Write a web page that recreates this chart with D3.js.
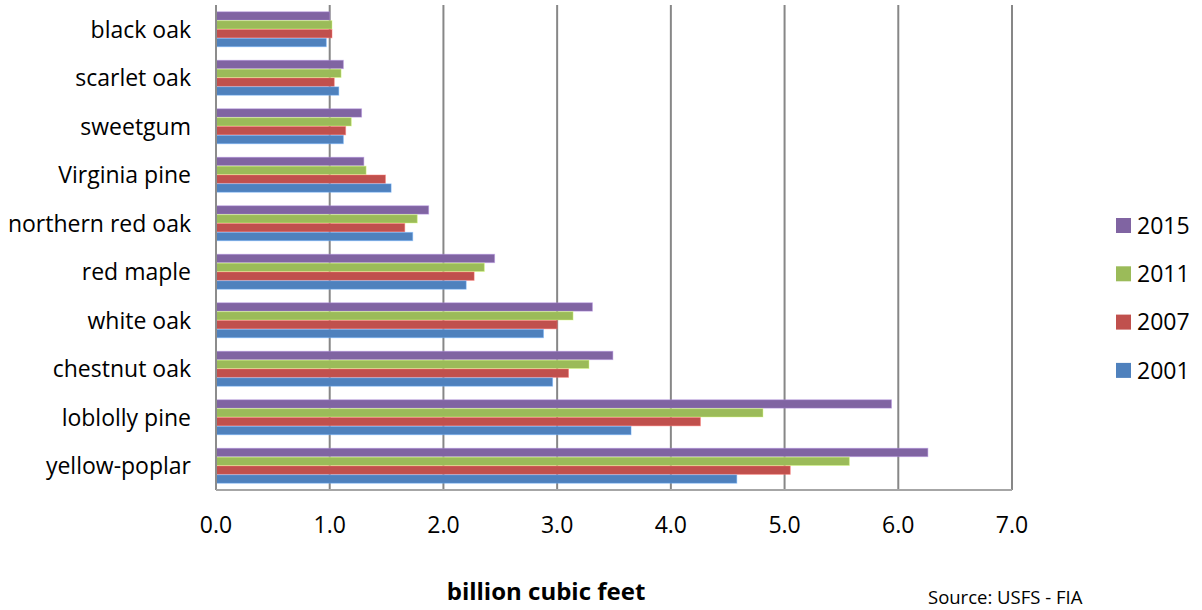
<!DOCTYPE html>
<html>
<head>
<meta charset="utf-8">
<script src="https://cdn.jsdelivr.net/npm/d3@7"></script>
<style>
  html, body { margin: 0; padding: 0; background: #fff; }
  svg { display: block; font-family: "Open Sans", "Noto Sans", sans-serif; }
</style>
</head>
<body>
<svg id="chart" width="1202" height="610"></svg>
<script>
// Growing-stock volume by species (billion cubic feet), inventory years 2001–2015
const categories = ["black oak", "scarlet oak", "sweetgum", "Virginia pine", "northern red oak",
  "red maple", "white oak", "chestnut oak", "loblolly pine", "yellow-poplar"];

const years = ["2015", "2011", "2007", "2001"];

const values2015 = [1.00, 1.12, 1.28, 1.30, 1.87, 2.45, 3.31, 3.49, 5.94, 6.26];
const values2011 = [1.02, 1.10, 1.19, 1.32, 1.77, 2.36, 3.14, 3.28, 4.81, 5.57];
const values2007 = [1.02, 1.04, 1.14, 1.49, 1.66, 2.27, 3.00, 3.10, 4.26, 5.05];
const values2001 = [0.97, 1.08, 1.12, 1.54, 1.73, 2.20, 2.88, 2.96, 3.65, 4.58];

const xTicks = [0, 1, 2, 3, 4, 5, 6, 7];
const xTitle = "billion cubic feet";
const sourceNote = "Source: USFS - FIA";

const seriesValues = { "2015": values2015, "2011": values2011, "2007": values2007, "2001": values2001 };
const colors = { "2015": "#8064A2", "2011": "#9BBB59", "2007": "#C0504D", "2001": "#4F81BD" };

const svg = d3.select("#chart");

const plot = { left: 216, right: 1012, top: 5, bottom: 490 };

const x = d3.scaleLinear().domain([0, 7]).range([plot.left, plot.right]);
const y = d3.scaleBand().domain(categories).range([plot.top, plot.bottom])
  .paddingInner(0.28).paddingOuter(0.14);
const ySub = d3.scaleBand().domain(years).range([0, y.bandwidth()]).paddingInner(0.06);

// vertical gridlines
svg.append("g")
  .selectAll("line")
  .data(xTicks.slice(1))
  .join("line")
  .attr("x1", d => x(d)).attr("x2", d => x(d))
  .attr("y1", plot.top).attr("y2", plot.bottom)
  .attr("stroke", "#878787")
  .attr("stroke-width", 2);

// bars
const groups = svg.append("g")
  .selectAll("g")
  .data(categories)
  .join("g")
  .attr("transform", d => `translate(0,${y(d)})`);

groups.selectAll("rect")
  .data((c, i) => years.map(yr => ({ year: yr, value: seriesValues[yr][i] })))
  .join("rect")
  .attr("x", x(0))
  .attr("y", d => ySub(d.year))
  .attr("width", d => x(d.value) - x(0))
  .attr("height", ySub.bandwidth())
  .attr("fill", d => colors[d.year])
  .attr("stroke", d => d3.color(colors[d.year]).brighter(0.9))
  .attr("stroke-opacity", 0.45)
  .attr("stroke-width", 1);

// axis lines
svg.append("line")
  .attr("x1", plot.left).attr("x2", plot.left)
  .attr("y1", plot.top).attr("y2", plot.bottom)
  .attr("stroke", "#8c8c8c").attr("stroke-width", 2);
svg.append("line")
  .attr("x1", plot.left).attr("x2", plot.right)
  .attr("y1", plot.bottom).attr("y2", plot.bottom)
  .attr("stroke", "#a6a6a6").attr("stroke-width", 2);

// category labels
svg.append("g")
  .selectAll("text")
  .data(categories)
  .join("text")
  .attr("x", 191)
  .attr("y", d => y(d) + y.bandwidth() / 2)
  .attr("dy", "0.36em")
  .attr("text-anchor", "end")
  .attr("font-size", 23)
  .attr("fill", "#000")
  .text(d => d);

// x tick labels
svg.append("g")
  .selectAll("text")
  .data(xTicks)
  .join("text")
  .attr("x", d => x(d))
  .attr("y", 533)
  .attr("text-anchor", "middle")
  .attr("font-size", 23)
  .attr("fill", "#000")
  .text(d => d3.format(".1f")(d));

// axis title
svg.append("text")
  .attr("x", 546)
  .attr("y", 600)
  .attr("text-anchor", "middle")
  .attr("font-size", 24)
  .attr("font-weight", "bold")
  .attr("fill", "#000")
  .text(xTitle);

// source note
svg.append("text")
  .attr("x", 928)
  .attr("y", 604)
  .attr("font-size", 18.5)
  .attr("fill", "#000")
  .text(sourceNote);

// legend
const legend = svg.append("g")
  .selectAll("g")
  .data(years)
  .join("g")
  .attr("transform", (d, i) => `translate(1116,${218 + i * 48.3})`);

legend.append("rect")
  .attr("width", 15).attr("height", 15)
  .attr("fill", d => colors[d]);

legend.append("text")
  .attr("x", 21)
  .attr("y", 7.5)
  .attr("dy", "0.36em")
  .attr("font-size", 23)
  .attr("fill", "#000")
  .text(d => d);
</script>
</body>
</html>
